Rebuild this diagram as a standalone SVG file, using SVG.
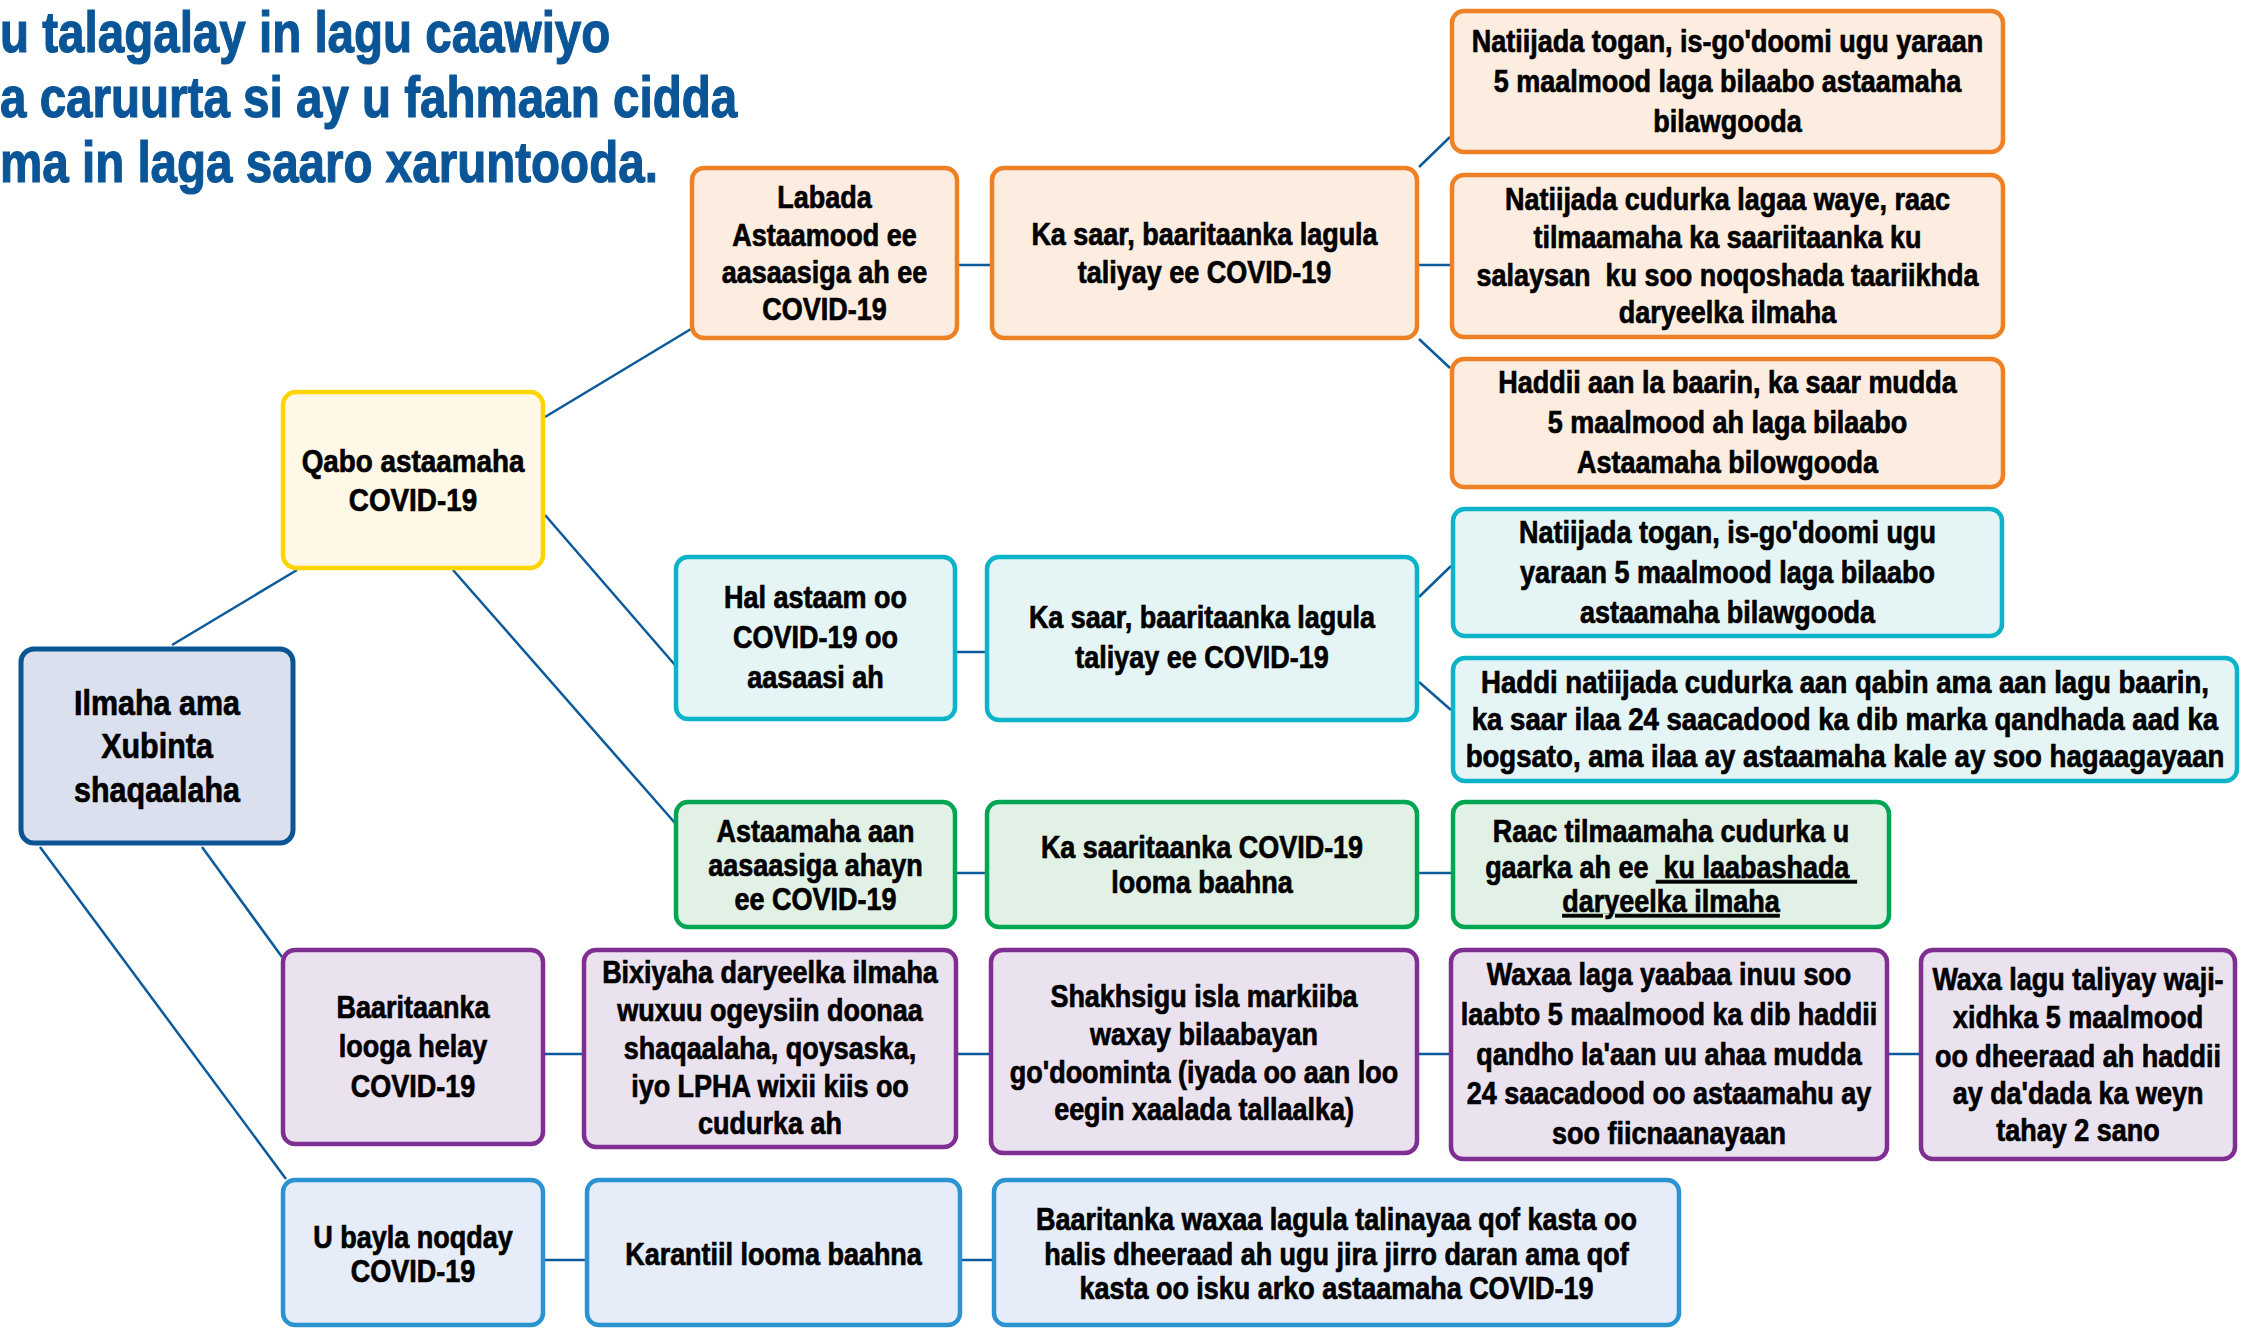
<svg xmlns="http://www.w3.org/2000/svg" width="2260" height="1329" viewBox="0 0 2260 1329">
<style>
.box{stroke-width:4.5}
.or{fill:#fdede0;stroke:#ee8125}
.te{fill:#e5f5f6;stroke:#0db3c9}
.gr{fill:#e1f1e5;stroke:#00a651}
.pu{fill:#ebe2f0;stroke:#7f2e92}
.bl{fill:#e6ecf8;stroke:#2b93d1}
.t{font-family:"Liberation Sans",Arial,sans-serif;font-weight:bold;font-size:31px;fill:#000;stroke:#000;stroke-width:0.7;text-anchor:middle;white-space:pre}
.title{font-family:"Liberation Sans",Arial,sans-serif;font-weight:bold;font-size:58px;fill:#0a5597;stroke:#0a5597;stroke-width:1.2}
.con line{stroke:#0a5a9c;stroke-width:2.5;fill:none}
</style>
<rect width="2260" height="1329" fill="#fff"/>
<g id="title">
<text class="title" transform="scale(0.82,1)"><tspan x="0" y="52">u talagalay in lagu caawiyo</tspan><tspan x="0" y="117">a caruurta si ay u fahmaan cidda</tspan><tspan x="0" y="182">ma in laga saaro xaruntooda.</tspan></text>
</g>
<g id="connectors" class="con">
<line x1="172" y1="645" x2="297" y2="570"/>
<line x1="202" y1="847" x2="282" y2="957"/>
<line x1="40" y1="847" x2="286" y2="1179"/>
<line x1="545" y1="417" x2="691" y2="329"/>
<line x1="545" y1="515" x2="675" y2="665"/>
<line x1="453" y1="570" x2="675" y2="823"/>
<line x1="959" y1="265" x2="990" y2="265"/>
<line x1="1419" y1="167" x2="1450" y2="137"/>
<line x1="1419" y1="265" x2="1450" y2="265"/>
<line x1="1419" y1="339" x2="1450" y2="368"/>
<line x1="957" y1="652" x2="985" y2="652"/>
<line x1="1419" y1="597" x2="1451" y2="566"/>
<line x1="1419" y1="682" x2="1451" y2="710"/>
<line x1="957" y1="873" x2="985" y2="873"/>
<line x1="1419" y1="873" x2="1451" y2="873"/>
<line x1="545" y1="1054" x2="582" y2="1054"/>
<line x1="958" y1="1054" x2="989" y2="1054"/>
<line x1="1419" y1="1054" x2="1449" y2="1054"/>
<line x1="1889" y1="1054" x2="1919" y2="1054"/>
<line x1="545" y1="1260" x2="585" y2="1260"/>
<line x1="962" y1="1260" x2="992" y2="1260"/>
</g>
<g id="n-ilmaha">
<rect x="21" y="649" width="272" height="194" rx="13" fill="#dae0ee" stroke="#0b5595" stroke-width="5"/>
<text class="t" style="font-size:35px" transform="translate(157,0) scale(0.87,1)"><tspan x="0" y="715">Ilmaha ama</tspan><tspan x="0" y="758">Xubinta</tspan><tspan x="0" y="802">shaqaalaha</tspan></text>
</g>
<g id="n-qabo">
<rect x="283" y="392" width="260" height="176" rx="13" fill="#fff8e6" stroke="#ffd400" stroke-width="4.5"/>
<text class="t" style="font-size:32px" transform="translate(413,0) scale(0.87,1)"><tspan x="0" y="472">Qabo astaamaha</tspan><tspan x="0" y="511">COVID-19</tspan></text>
</g>
<g id="n-labada">
<rect class="box or" x="692" y="168" width="265" height="170" rx="12"/>
<text class="t" transform="translate(824.5,0) scale(0.87,1)"><tspan x="0" y="208">Labada</tspan><tspan x="0" y="246">Astaamood ee</tspan><tspan x="0" y="283">aasaasiga ah ee</tspan><tspan x="0" y="320">COVID-19</tspan></text>
</g>
<g id="n-kasaar-or">
<rect class="box or" x="992" y="168" width="425" height="170" rx="12"/>
<text class="t" transform="translate(1204.5,0) scale(0.87,1)"><tspan x="0" y="245">Ka saar, baaritaanka lagula</tspan><tspan x="0" y="283">taliyay ee COVID-19</tspan></text>
</g>
<g id="n-or1">
<rect class="box or" x="1452" y="11" width="551" height="141" rx="12"/>
<text class="t" transform="translate(1727.5,0) scale(0.87,1)"><tspan x="0" y="52">Natiijada togan, is-go'doomi ugu yaraan</tspan><tspan x="0" y="92">5 maalmood laga bilaabo astaamaha</tspan><tspan x="0" y="132">bilawgooda</tspan></text>
</g>
<g id="n-or2">
<rect class="box or" x="1452" y="175" width="551" height="162" rx="12"/>
<text class="t" transform="translate(1727.5,0) scale(0.87,1)"><tspan x="0" y="210">Natiijada cudurka lagaa waye, raac</tspan><tspan x="0" y="248">tilmaamaha ka saariitaanka ku</tspan><tspan x="0" y="286">salaysan  ku soo noqoshada taariikhda</tspan><tspan x="0" y="323">daryeelka ilmaha</tspan></text>
</g>
<g id="n-or3">
<rect class="box or" x="1452" y="359" width="551" height="128" rx="12"/>
<text class="t" transform="translate(1727.5,0) scale(0.87,1)"><tspan x="0" y="393">Haddii aan la baarin, ka saar mudda</tspan><tspan x="0" y="433">5 maalmood ah laga bilaabo</tspan><tspan x="0" y="473">Astaamaha bilowgooda</tspan></text>
</g>
<g id="n-hal">
<rect class="box te" x="676" y="557" width="279" height="162" rx="12"/>
<text class="t" transform="translate(815.5,0) scale(0.87,1)"><tspan x="0" y="608">Hal astaam oo</tspan><tspan x="0" y="648">COVID-19 oo</tspan><tspan x="0" y="688">aasaasi ah</tspan></text>
</g>
<g id="n-kasaar-te">
<rect class="box te" x="987" y="557" width="430" height="163" rx="12"/>
<text class="t" transform="translate(1202,0) scale(0.87,1)"><tspan x="0" y="628">Ka saar, baaritaanka lagula</tspan><tspan x="0" y="668">taliyay ee COVID-19</tspan></text>
</g>
<g id="n-te1">
<rect class="box te" x="1453" y="509" width="549" height="127" rx="12"/>
<text class="t" transform="translate(1727.5,0) scale(0.87,1)"><tspan x="0" y="543">Natiijada togan, is-go'doomi ugu</tspan><tspan x="0" y="583">yaraan 5 maalmood laga bilaabo</tspan><tspan x="0" y="623">astaamaha bilawgooda</tspan></text>
</g>
<g id="n-te2">
<rect class="box te" x="1453" y="658" width="784" height="123" rx="12"/>
<text class="t" transform="translate(1845,0) scale(0.89,1)"><tspan x="0" y="693">Haddi natiijada cudurka aan qabin ama aan lagu baarin,</tspan><tspan x="0" y="730">ka saar ilaa 24 saacadood ka dib marka qandhada aad ka</tspan><tspan x="0" y="767">bogsato, ama ilaa ay astaamaha kale ay soo hagaagayaan</tspan></text>
</g>
<g id="n-astaamaha-aan">
<rect class="box gr" x="676" y="802" width="279" height="125" rx="12"/>
<text class="t" transform="translate(815.5,0) scale(0.87,1)"><tspan x="0" y="842">Astaamaha aan</tspan><tspan x="0" y="876">aasaasiga ahayn</tspan><tspan x="0" y="910">ee COVID-19</tspan></text>
</g>
<g id="n-kasaaritaanka">
<rect class="box gr" x="987" y="802" width="430" height="125" rx="12"/>
<text class="t" transform="translate(1202,0) scale(0.87,1)"><tspan x="0" y="858">Ka saaritaanka COVID-19</tspan><tspan x="0" y="893">looma baahna</tspan></text>
</g>
<g id="n-raac">
<rect class="box gr" x="1453" y="802" width="436" height="125" rx="12"/>
<text class="t" transform="translate(1671,0) scale(0.87,1)"><tspan x="0" y="842">Raac tilmaamaha cudurka u</tspan><tspan x="0" y="878">gaarka ah ee <tspan text-decoration="underline"> ku laabashada </tspan></tspan><tspan x="0" y="912" text-decoration="underline">daryeelka ilmaha</tspan></text>
</g>
<g id="n-baaritaanka-helay">
<rect class="box pu" x="283" y="950" width="260" height="194" rx="12"/>
<text class="t" transform="translate(413,0) scale(0.87,1)"><tspan x="0" y="1018">Baaritaanka</tspan><tspan x="0" y="1057">looga helay</tspan><tspan x="0" y="1097">COVID-19</tspan></text>
</g>
<g id="n-bixiyaha">
<rect class="box pu" x="584" y="950" width="372" height="197" rx="12"/>
<text class="t" transform="translate(770,0) scale(0.87,1)"><tspan x="0" y="983">Bixiyaha daryeelka ilmaha</tspan><tspan x="0" y="1021">wuxuu ogeysiin doonaa</tspan><tspan x="0" y="1059">shaqaalaha, qoysaska,</tspan><tspan x="0" y="1097">iyo LPHA wixii kiis oo</tspan><tspan x="0" y="1134">cudurka ah</tspan></text>
</g>
<g id="n-shakhsigu">
<rect class="box pu" x="991" y="950" width="426" height="203" rx="12"/>
<text class="t" transform="translate(1204,0) scale(0.87,1)"><tspan x="0" y="1007">Shakhsigu isla markiiba</tspan><tspan x="0" y="1045">waxay bilaabayan</tspan><tspan x="0" y="1083">go'doominta (iyada oo aan loo</tspan><tspan x="0" y="1120">eegin xaalada tallaalka)</tspan></text>
</g>
<g id="n-waxaa">
<rect class="box pu" x="1451" y="950" width="436" height="209" rx="12"/>
<text class="t" transform="translate(1669,0) scale(0.87,1)"><tspan x="0" y="985">Waxaa laga yaabaa inuu soo</tspan><tspan x="0" y="1025">laabto 5 maalmood ka dib haddii</tspan><tspan x="0" y="1065">qandho la'aan uu ahaa mudda</tspan><tspan x="0" y="1104">24 saacadood oo astaamahu ay</tspan><tspan x="0" y="1144">soo fiicnaanayaan</tspan></text>
</g>
<g id="n-waxa-lagu">
<rect class="box pu" x="1921" y="950" width="314" height="209" rx="12"/>
<text class="t" transform="translate(2078,0) scale(0.87,1)"><tspan x="0" y="990">Waxa lagu taliyay waji-</tspan><tspan x="0" y="1028">xidhka 5 maalmood</tspan><tspan x="0" y="1067">oo dheeraad ah haddii</tspan><tspan x="0" y="1104">ay da'dada ka weyn</tspan><tspan x="0" y="1141">tahay 2 sano</tspan></text>
</g>
<g id="n-ubayla">
<rect class="box bl" x="283" y="1180" width="260" height="145" rx="12"/>
<text class="t" transform="translate(413,0) scale(0.87,1)"><tspan x="0" y="1248">U bayla noqday</tspan><tspan x="0" y="1282">COVID-19</tspan></text>
</g>
<g id="n-karantiil">
<rect class="box bl" x="587" y="1180" width="373" height="145" rx="12"/>
<text class="t" transform="translate(773.5,0) scale(0.87,1)"><tspan x="0" y="1265">Karantiil looma baahna</tspan></text>
</g>
<g id="n-baaritanka">
<rect class="box bl" x="994" y="1180" width="685" height="145" rx="12"/>
<text class="t" transform="translate(1336.5,0) scale(0.87,1)"><tspan x="0" y="1230">Baaritanka waxaa lagula talinayaa qof kasta oo</tspan><tspan x="0" y="1265">halis dheeraad ah ugu jira jirro daran ama qof</tspan><tspan x="0" y="1299">kasta oo isku arko astaamaha COVID-19</tspan></text>
</g>
</svg>
